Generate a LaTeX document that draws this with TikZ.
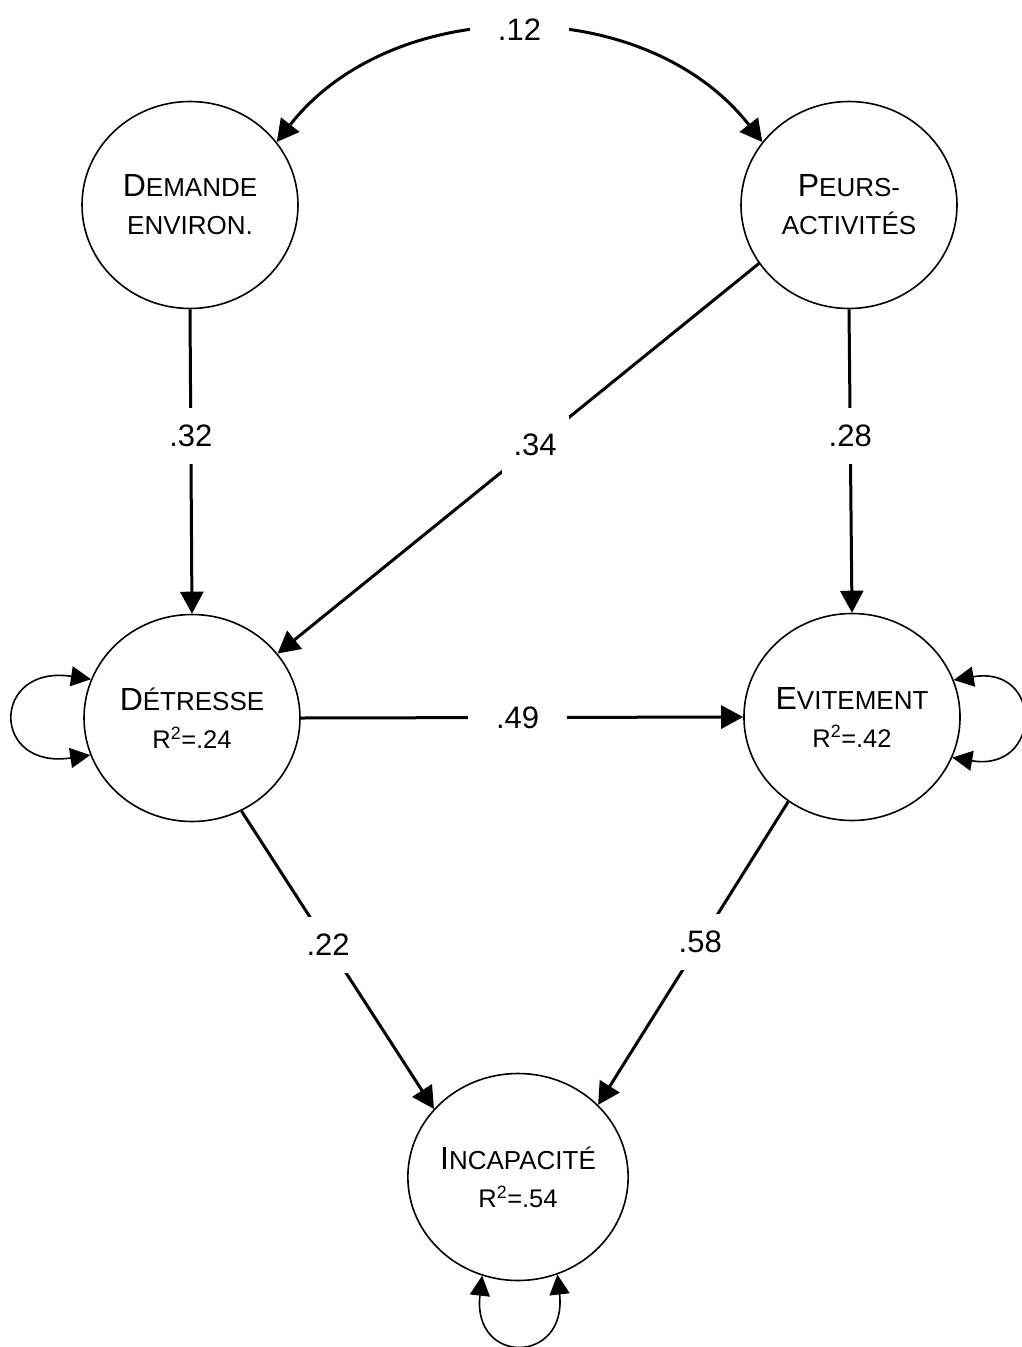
\documentclass[tikz,border=0pt]{standalone}
\usepackage{fontspec}
\setmainfont{Liberation Sans}
\usetikzlibrary{arrows.meta,shapes.geometric}
\newcommand\BigInit[1]{{\fontsize{32}{38}\selectfont #1}}
\newcommand\RsqLine[1]{{\fontsize{25.5}{38}\selectfont R\textsuperscript{2}=#1}}
\begin{document}
\begin{tikzpicture}[x=1pt,y=1pt,
  var/.style={ellipse, draw, line width=1.6pt, minimum width=216pt, minimum height=207pt,
    inner sep=0pt, align=center, font=\fontsize{26}{38}\selectfont},
  pathar/.style={line width=3pt, -{Triangle[length=22pt,width=23pt]}},
  covar/.style={line width=3pt, {Triangle[length=22pt,width=23pt]}-{Triangle[length=22pt,width=23pt]}},
  selfloop/.style={line width=1.6pt, {Triangle[length=20pt,width=20pt]}-{Triangle[length=20pt,width=20pt]}},
  lbl/.style={fill=white, font=\fontsize{31}{36}\selectfont, inner xsep=3pt, inner ysep=17pt}
]
\useasboundingbox (0,0) rectangle (1021,-1347);

\node[var] (dem) at (190,-205) {\BigInit{D}EMANDE\\ENVIRON.};
\node[var] (peu) at (849,-205) {\BigInit{P}EURS-\\ACTIVITÉS};
\node[var] (det) at (192,-718) {\BigInit{D}ÉTRESSE\\\RsqLine{.24}};
\node[var] (evi) at (852,-717) {\BigInit{E}VITEMENT\\\RsqLine{.42}};
\node[var] (inc) at (518,-1177) {\BigInit{I}NCAPACITÉ\\\RsqLine{.54}};

% covariance
\draw[covar] (dem.36) to[bend left=52] node[lbl, inner xsep=28pt, inner ysep=6pt] {.12} (peu.144);

% paths
\draw[pathar] (dem.south) -- node[lbl, pos=0.417] {.32} (det.north);
\draw[pathar] (peu.south) -- node[lbl, pos=0.418] {.28} (evi.north);
\draw[pathar] (peu.213) -- node[lbl, pos=0.465, inner xsep=12pt, inner ysep=18pt] {.34} (det.37);
\draw[pathar] (det.east) -- node[lbl, pos=0.49, inner xsep=28pt, inner ysep=6pt] {.49} (evi.west);
\draw[pathar] (det.-62.4) -- node[lbl, pos=0.45] {.22} (inc.141.8);
\draw[pathar] (evi.233) -- node[lbl, pos=0.463] {.58} (inc.42.3);

% residual self loops
\draw[selfloop] (det.159) .. controls +(-100,15) and +(-100,-15) .. (det.200);
\draw[selfloop] (evi.20) .. controls +(90,15) and +(90,-15) .. (evi.-22);
\draw[selfloop] (inc.250) .. controls +(-10,-90) and +(10,-90) .. (inc.292);
\end{tikzpicture}
\end{document}
